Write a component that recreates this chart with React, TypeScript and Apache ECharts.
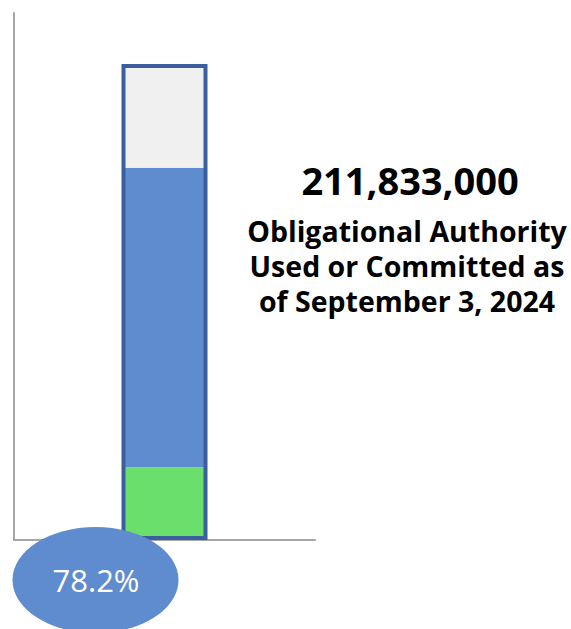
import React, { useEffect, useRef } from "react";
import * as echarts from "echarts";

const categories = ["Obligational Authority"];
const expendedValues = [15.3];
const committedValues = [62.9];
const remainingValues = [21.8];
const capacityValues = [100];
const totalLabel = "211,833,000";
const descriptionLines = ["Obligational Authority", "Used or Committed as", "of September 3, 2024"];
const percentLabel = "78.2%";

export default function App() {
  const ref = useRef<HTMLDivElement>(null);
  useEffect(() => {
    if (!ref.current) return;
    const chart = echarts.init(ref.current, undefined, { renderer: "svg" });
    const axisGray = "#A6A6A6";
    chart.setOption({
      animation: false,
      grid: { left: 14, right: 256, top: 13, bottom: 89 },
      xAxis: [
        {
          type: "category",
          data: categories,
          axisLine: { show: true, lineStyle: { color: axisGray, width: 2 } },
          axisTick: { show: false },
          axisLabel: { show: false },
        },
        {
          type: "category",
          data: categories,
          show: false,
        },
      ],
      yAxis: {
        type: "value",
        min: 0,
        max: 110.7,
        axisLine: { show: true, lineStyle: { color: axisGray, width: 2 } },
        axisTick: { show: false },
        axisLabel: { show: false },
        splitLine: { show: false },
      },
      series: [
        {
          type: "bar",
          stack: "fill",
          barWidth: 82,
          data: expendedValues,
          itemStyle: { color: "#6BDF6B" },
          z: 2,
        },
        {
          type: "bar",
          stack: "fill",
          barWidth: 82,
          data: committedValues,
          itemStyle: { color: "#5F8CCE" },
          z: 2,
        },
        {
          type: "bar",
          stack: "fill",
          barWidth: 82,
          data: remainingValues,
          itemStyle: { color: "#F0F0F0" },
          z: 2,
        },
        {
          type: "bar",
          xAxisIndex: 1,
          barWidth: 86,
          data: capacityValues,
          itemStyle: { color: "rgba(0,0,0,0)", borderColor: "#3B5E9F", borderWidth: 4 },
          z: 3,
        },
      ],
      graphic: [
        {
          type: "ellipse",
          shape: { cx: 95.5, cy: 580, rx: 83, ry: 53 },
          style: { fill: "#5F8CCE" },
          z: 10,
        },
        {
          type: "text",
          x: 96,
          y: 580,
          style: {
            text: percentLabel,
            fill: "#FFFFFF",
            font: "31px 'Open Sans'",
            textAlign: "center",
            textVerticalAlign: "middle",
          },
          z: 11,
        },
        {
          type: "text",
          x: 410,
          y: 180,
          style: {
            text: totalLabel,
            fill: "#000000",
            font: "bold 38px 'Open Sans'",
            textAlign: "center",
            textVerticalAlign: "middle",
          },
        },
        ...descriptionLines.map((line, i) => ({
          type: "text",
          x: 407,
          y: 231 + i * 35,
          style: {
            text: line,
            fill: "#000000",
            font: "bold 28.5px 'Open Sans'",
            textAlign: "center",
            textVerticalAlign: "middle",
          },
        })),
      ],
    });
    return () => chart.dispose();
  }, []);
  return (
    <div
      ref={ref}
      style={{ position: "absolute", left: 0, top: 0, width: 571, height: 629, background: "#FFFFFF" }}
    />
  );
}
